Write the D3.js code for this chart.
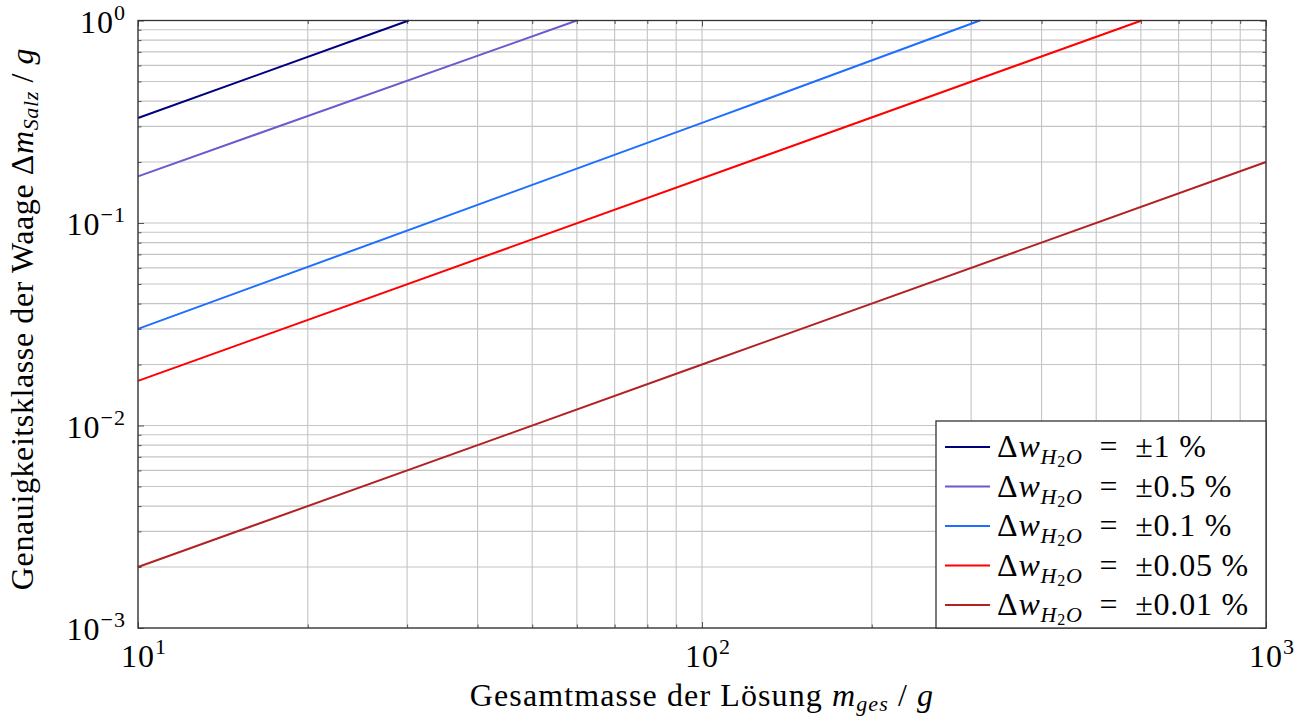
<!DOCTYPE html>
<html><head><meta charset="utf-8">
<script src="https://cdn.jsdelivr.net/npm/d3@7"></script>
<style>body{margin:0;background:#fff}svg{display:block}</style>
</head><body>
<script>
// Data
const seriesNames = ["±1 %", "±0.5 %", "±0.1 %", "±0.05 %", "±0.01 %"];
const seriesColors = ["#00007f", "#6a5acd", "#1e6fff", "#ff0000", "#b22222"];
const xs1 = [10, 30.2];      const ys1 = [0.33, 1];
const xs2 = [10, 60];        const ys2 = [0.17, 1];
const xs3 = [10, 100, 311];  const ys3 = [0.03, 0.312, 1];
const xs4 = [10, 602];       const ys4 = [0.0166, 1];
const xs5 = [10, 100, 1000]; const ys5 = [0.002, 0.02, 0.2];
const xTickExps = [1, 2, 3];
const yTickExps = [0, -1, -2, -3];

const W = 1301, H = 718;
const FONT = "'Liberation Serif', 'Times New Roman', Tinos, 'DejaVu Serif', serif";
const m = {l: 138, r: 1266, t: 20.5, b: 628};
const svg = d3.select("body").append("svg").attr("width", W).attr("height", H)
  .attr("font-family", FONT);
const x = d3.scaleLog().domain([10, 1000]).range([m.l, m.r]);
const y = d3.scaleLog().domain([1e-3, 1]).range([m.b, m.t]);

const xGrid = [], yGrid = [];
for (let e = 1; e < 3; e++) for (let k = 1; k <= 10; k++) xGrid.push(k * Math.pow(10, e));
for (let e = -3; e < 0; e++) for (let k = 1; k <= 10; k++) yGrid.push(k * Math.pow(10, e));
const uniq = a => Array.from(new Set(a.map(v => +v.toPrecision(6))));
const g = svg.append("g");
g.selectAll("line.gx").data(uniq(xGrid)).enter().append("line")
  .attr("x1", d => x(d)).attr("x2", d => x(d)).attr("y1", m.t).attr("y2", m.b)
  .attr("stroke", "#c4c4c4").attr("stroke-width", 1.1);
g.selectAll("line.gy").data(uniq(yGrid)).enter().append("line")
  .attr("y1", d => y(d)).attr("y2", d => y(d)).attr("x1", m.l).attr("x2", m.r)
  .attr("stroke", "#c4c4c4").attr("stroke-width", 1.1);

const isMajor = v => Math.abs(Math.log10(v) - Math.round(Math.log10(v))) < 1e-6;
function ticks(axisFn, scale, vals, size, transform) {
  svg.append("g").attr("transform", transform)
    .call(axisFn(scale).tickValues(vals).tickSize(size).tickFormat(""))
    .call(s => s.select(".domain").remove())
    .call(s => s.selectAll("line").attr("stroke", "#555").attr("stroke-width", 1));
}
const xv = uniq(xGrid), yv = uniq(yGrid);
ticks(d3.axisBottom, x, xv.filter(v => !isMajor(v)), -3.5, `translate(0,${m.b})`);
ticks(d3.axisBottom, x, xv.filter(isMajor), -6, `translate(0,${m.b})`);
ticks(d3.axisTop, x, xv.filter(v => !isMajor(v)), -3.5, `translate(0,${m.t})`);
ticks(d3.axisTop, x, xv.filter(isMajor), -6, `translate(0,${m.t})`);
ticks(d3.axisLeft, y, yv.filter(v => !isMajor(v)), -3.5, `translate(${m.l},0)`);
ticks(d3.axisLeft, y, yv.filter(isMajor), -6, `translate(${m.l},0)`);
ticks(d3.axisRight, y, yv.filter(v => !isMajor(v)), -3.5, `translate(${m.r},0)`);
ticks(d3.axisRight, y, yv.filter(isMajor), -6, `translate(${m.r},0)`);

const series = [[xs1, ys1], [xs2, ys2], [xs3, ys3], [xs4, ys4], [xs5, ys5]];
const line = d3.line().x(d => x(d[0])).y(d => y(d[1]));
series.forEach((s, i) => {
  svg.append("path").datum(s[0].map((v, j) => [v, s[1][j]]))
    .attr("d", line).attr("fill", "none").attr("stroke", seriesColors[i]).attr("stroke-width", 2);
});

svg.append("rect").attr("x", m.l).attr("y", m.t).attr("width", m.r - m.l).attr("height", m.b - m.t)
  .attr("fill", "none").attr("stroke", "#333").attr("stroke-width", 1.3);

const FS = 32, SS = 22;
function pow10(sel, e) {
  sel.append("tspan").text("10");
  sel.append("tspan").attr("dy", -13).attr("font-size", SS).text(e < 0 ? "\u2212" + (-e) : String(e));
}
xTickExps.forEach(e => {
  const t = svg.append("text").attr("x", x(Math.pow(10, e)) + 6).attr("y", 667)
    .attr("text-anchor", "middle").attr("font-size", FS).attr("letter-spacing", 1);
  pow10(t, e);
});
yTickExps.forEach(e => {
  const t = svg.append("text").attr("x", 126).attr("y", y(Math.pow(10, e)) + 12)
    .attr("text-anchor", "end").attr("font-size", FS).attr("letter-spacing", 1);
  pow10(t, e);
});

const LS = 32, LSS = 22;
const xl = svg.append("text").attr("x", 702).attr("y", 706).attr("text-anchor", "middle")
  .attr("font-size", LS).attr("letter-spacing", 1.1);
xl.append("tspan").text("Gesamtmasse der Lösung ");
xl.append("tspan").attr("font-style", "italic").text("m");
xl.append("tspan").attr("font-style", "italic").attr("font-size", LSS).attr("dy", 5).text("ges");
xl.append("tspan").attr("dy", -5).text("  /  ");
xl.append("tspan").attr("font-style", "italic").text("g");

const yl = svg.append("text").attr("transform", "translate(33,319) rotate(-90)")
  .attr("text-anchor", "middle").attr("font-size", LS).attr("letter-spacing", 0.6);
yl.append("tspan").text("Genauigkeitsklasse der Waage Δ");
yl.append("tspan").attr("font-style", "italic").text("m");
yl.append("tspan").attr("font-style", "italic").attr("font-size", LSS).attr("dy", 5).text("Salz");
yl.append("tspan").attr("dy", -5).text("  /  ");
yl.append("tspan").attr("font-style", "italic").text("g");

const lg = svg.append("g");
lg.append("rect").attr("x", 936).attr("y", 421).attr("width", m.r - 936).attr("height", m.b - 421)
  .attr("fill", "#fff").attr("stroke", "#333").attr("stroke-width", 1.3);
seriesNames.forEach((n, i) => {
  const cy = 447 + i * 39.5;
  lg.append("line").attr("x1", 945).attr("x2", 990).attr("y1", cy).attr("y2", cy)
    .attr("stroke", seriesColors[i]).attr("stroke-width", 2);
  const t = lg.append("text").attr("x", 997).attr("y", cy + 10).attr("font-size", LS)
    .attr("letter-spacing", 0.8);
  t.append("tspan").text("Δ");
  t.append("tspan").attr("font-style", "italic").text("w");
  t.append("tspan").attr("font-style", "italic").attr("font-size", LSS).attr("dy", 7).text("H");
  t.append("tspan").attr("font-size", 16).attr("dy", 3).text("2");
  t.append("tspan").attr("font-style", "italic").attr("font-size", LSS).attr("dy", -3).text("O");
  t.append("tspan").attr("dy", -7).text("\u2002=\u2002" + n);
});
</script>
</body></html>
